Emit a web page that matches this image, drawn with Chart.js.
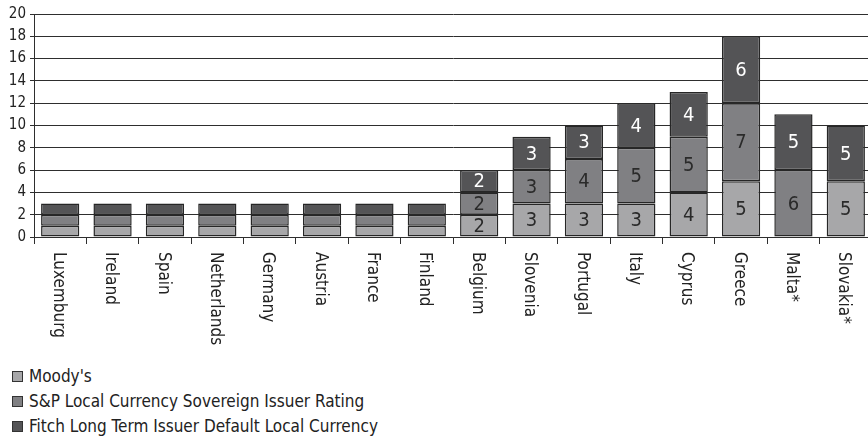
<!DOCTYPE html>
<html>
<head>
<meta charset="utf-8">
<script src="https://cdn.jsdelivr.net/npm/chart.js@4/dist/chart.umd.min.js"></script>
<style>
    body { margin:0; background:#fff; overflow:hidden; }
    #contenedor { position:absolute; left:0; top:0; width:872px; height:345px; }
    #leyenda { position:absolute; left:12px; top:366px; font-family:"Liberation Sans Narrow","DejaVu Sans Condensed",sans-serif; font-size:17px; color:#222; }
    #leyenda div { height:25px; line-height:20px; }
    #leyenda span.cuadro { display:inline-block; width:9px; height:9px; border:1px solid #333; margin-right:6px; vertical-align:0px; }
</style>
</head>
<body>
<div id="contenedor"><canvas id="grafica"></canvas></div>
<div id="leyenda"></div>
<script>
var paises = ['Luxemburg','Ireland','Spain','Netherlands','Germany','Austria','France','Finland',
              'Belgium','Slovenia','Portugal','Italy','Cyprus','Greece','Malta*','Slovakia*'];
var moodys = [1,1,1,1,1,1,1,1,2,3,3,3,4,5,0,5];
var sp     = [1,1,1,1,1,1,1,1,2,3,4,5,5,7,6,0];
var fitch  = [1,1,1,1,1,1,1,1,2,3,3,4,4,6,5,5];
var series = ["Moody's",'S&P Local Currency Sovereign Issuer Rating','Fitch Long Term Issuer Default Local Currency'];
var colores = ['#a7a7a9','#808083','#545456'];
var coloresTexto = ['#2a2a2a','#2a2a2a','#ffffff'];
var fuente = '"Liberation Sans Narrow","DejaVu Sans Condensed",sans-serif';

// numeros dentro de cada segmento y nombres de paises girados
var etiquetas = {
    id:'etiquetas',
    afterDatasetsDraw:function(chart){
        var ctx = chart.ctx;
        ctx.save();
        ctx.font = '20px ' + fuente;
        ctx.textAlign = 'center';
        ctx.textBaseline = 'middle';
        chart.data.datasets.forEach(function(ds, i){
            var meta = chart.getDatasetMeta(i);
            meta.data.forEach(function(bar, j){
                if(ds.data[j] < 2){
                    return;
                }
                ctx.fillStyle = coloresTexto[i];
                ctx.fillText(ds.data[j], bar.x, (bar.y + bar.base) / 2 + 1);
            });
        });
        var x = chart.scales.x;
        ctx.font = '17px ' + fuente;
        ctx.fillStyle = '#222';
        ctx.textAlign = 'left';
        paises.forEach(function(p, j){
            ctx.save();
            ctx.translate(x.getPixelForValue(j) - 2, x.bottom - x.height + 15);
            ctx.rotate(Math.PI / 2);
            ctx.fillText(p, 0, 0);
            ctx.restore();
        });
        ctx.restore();
    }
};

var datos = [moodys, sp, fitch];
var conjuntos = datos.map(function(d, i){
    return {
        label:series[i],
        data:d,
        backgroundColor:colores[i],
        borderColor:'#262626',
        borderWidth:1.5,
        borderSkipped:false,
        inflateAmount:0,
        categoryPercentage:1,
        barPercentage:0.73
    };
});

new Chart(document.getElementById('grafica').getContext('2d'), {
    type:'bar',
    data:{labels:paises, datasets:conjuntos},
    options:{
        responsive:true,
        maintainAspectRatio:false,
        animation:false,
        layout:{padding:{top:14, right:0, left:0, bottom:0}},
        plugins:{legend:{display:false}, tooltip:{enabled:false}},
        scales:{
            x:{
                stacked:true,
                grid:{drawOnChartArea:false, color:'#2e2e2e', tickLength:7},
                border:{color:'#2e2e2e'},
                ticks:{display:false},
                afterFit:function(s){ s.height = 108; }
            },
            y:{
                stacked:true,
                min:0, max:20,
                ticks:{stepSize:2, color:'#222', padding:4, font:{family:fuente, size:15}},
                grid:{color:'#2e2e2e', tickLength:4},
                border:{color:'#2e2e2e'},
                afterFit:function(s){ s.width = 34; }
            }
        }
    },
    plugins:[etiquetas]
});

var htmlLeyenda = '';
series.forEach(function(s, i){
    htmlLeyenda += '<div><span class="cuadro" style="background:' + colores[i] + '"></span>' + s + '</div>';
});
document.getElementById('leyenda').innerHTML = htmlLeyenda;
</script>
</body>
</html>
